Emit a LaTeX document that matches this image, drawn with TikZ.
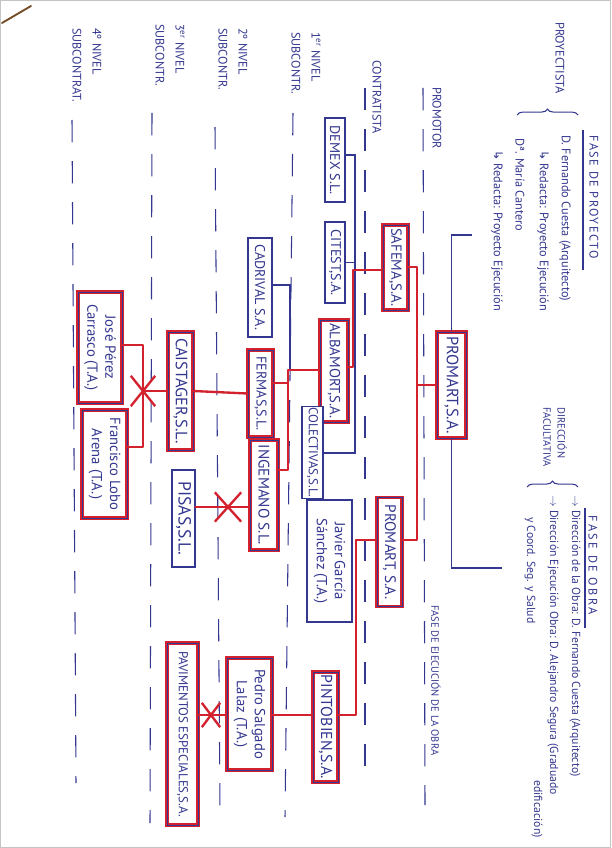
\documentclass[tikz,border=0pt]{standalone}
\usepackage{fontspec}
\setmainfont{PT Sans}
\newfontfamily\arrowfont{DejaVu Sans}
\usepackage{tikz}
\definecolor{penblue}{HTML}{34378F}
\definecolor{penred}{HTML}{D3222E}
\definecolor{pengray}{HTML}{C4C4C4}
\usetikzlibrary{shapes.misc}
\usetikzlibrary{decorations.pathreplacing}
\newcommand{\hookarrow}{{\arrowfont\char"21B3}}
\newcommand{\fs}[1]{\fontsize{#1}{#1}\selectfont}

\begin{document}
\begin{tikzpicture}
    [
    x=0.03cm, y=-0.03cm, font=\fontsize{10.5}{13}\selectfont, text=penblue,
    %Voreinstellungen
    cbox/.style={draw=penblue, line width=0.9pt, fill=white, rotate=-90, inner sep=1pt, align=center, font=\fs{12}},
    chainbox/.style={cbox, draw=penred, line width=1.1pt, double=penblue, double distance=0.5pt},
    twolines/.style={font=\fontsize{12.5}{15.5}\selectfont},
    dims/.style 2 args={minimum width=#1*0.8536pt, minimum height=#2*0.8536pt},
    rottext/.style={rotate=-90, inner sep=0pt, anchor=west, align=left, font=\fontsize{10.5}{17}\selectfont},
    blueline/.style={draw=penblue, line width=0.9pt},
    redline/.style={draw=penred, line width=2pt, line cap=round, line join=round},
    levelline/.style={draw=penblue, line width=0.9pt, dash pattern=on 19pt off 16pt},
    crossmark/.style={cross out, draw=penred, line width=2pt, inner sep=0pt}
    ]
    \useasboundingbox (0,0) rectangle (611,848);
    
    %Blatt
    \draw[pengray, line width=0.8pt] (0.5,0.5) rectangle (610.5,847.5);
    \draw[brown!60!black, line width=1.6pt, line cap=round] (2,23) -- (31,6);
    
    %Niveles
    \foreach \xa/\ya/\xb/\yb in {423/88/425/805, 365/88/365/785, 293/113/285/817, 215/127/220/810, 152/113/150/823, 72/120/76/783}
    \draw[levelline] (\xa,\ya) -- (\xb,\yb);
    
    \node[rottext] (proyectista) at (560,22) {PROYECTISTA};
    \node[rottext] (promotor) at (437,87) {PROMOTOR};
    \node[rottext] (contratista) at (377,60) {CONTRATISTA};
    \node[rottext] (nivel1) at (306,32) {1\textsuperscript{er} NIVEL\\SUBCONTR.};
    \node[rottext] (nivel2) at (233,28) {2º NIVEL\\SUBCONTR.};
    \node[rottext] (nivel3) at (170,24) {3\textsuperscript{er} NIVEL\\SUBCONTR.};
    \node[rottext] (nivel4) at (87,28) {4º NIVEL\\SUBCONTRAT.};
    
    %Fase de proyecto
    \node[rottext] (faseproy) at (594,135) {\addfontfeatures{LetterSpace=12}FASE DE PROYECTO};
    \draw[blueline] (583,130) -- (583,270);
    \node[rottext] (fernandoA) at (565,135) {D. Fernando Cuesta (Arquitecto)};
    \node[rottext] (redactaA) at (543,150) {\hookarrow\ Redacta: Proyecto Ejecución};
    \node[rottext] (maria) at (520,138) {Dª. María Cantero};
    \node[rottext] (redactaB) at (497,150) {\hookarrow\ Redacta: Proyecto Ejecución};
    \draw[blueline, decorate, decoration={brace, amplitude=5pt}] (517,115) -- (578,115);
    
    %Fase de obra
    \node[rottext, font=\fontsize{9}{12}\selectfont] (direccion) at (555,407) {DIRECCIÓN\\FACULTATIVA};
    \draw[blueline, decorate, decoration={brace, amplitude=5pt}] (527,487) -- (578,487);
    \node[rottext] (faseobra) at (593,515) {\addfontfeatures{LetterSpace=20}FASE DE OBRA};
    \draw[blueline] (585,508) -- (585,628);
    \node[rottext, font=\fs{10}] (obraA) at (575,495) {$\rightarrow$ Dirección de la Obra: D. Fernando Cuesta (Arquitecto)};
    \node[rottext, font=\fs{10}] (obraB) at (553,495) {$\rightarrow$ Dirección Ejecución Obra: D. Alejandro Segura (Graduado};
    \node[rottext, anchor=east, font=\fs{10}] (obraC) at (537,838) {edificación)};
    \node[rottext, font=\fs{10}] (obraD) at (530,517) {y Coord. Seg. y Salud};
    \node[rottext, font=\fs{9}] (ejecucion) at (436,605) {FASE DE EJECUCIÓN DE LA OBRA};
    
    %Promotor
    \node[chainbox, dims={106}{29}, font=\fs{14}] (promA) at (451.5,385) {PROMART,S.A.};
    
    %Contratistas
    \node[chainbox, dims={85}{25}, font=\fs{12.5}] (safema) at (395.5,267.5) {SAFEMA,S.A.};
    \node[chainbox, dims={109}{25}, font=\fs{13}] (promB) at (389.5,552) {PROMART, S.A.};
    
    %1er nivel
    \node[cbox, dims={84}{20}] (demex) at (335,160) {DEMEX S.L.};
    \node[cbox, dims={81}{20}] (citest) at (335,262.5) {CITEST,S.A.};
    \node[chainbox, dims={102}{28}, font=\fs{12.5}] (albamort) at (334,371) {ALBAMORT,S.A.};
    \node[cbox, dims={91}{21}, font=\fs{11}] (colectivas) at (312.5,452.5) {COLECTIVAS,S.L.};
    \node[cbox, dims={122}{45}, twolines] (javier) at (329.5,561) {Javier García\\Sánchez (T.A.)};
    \node[chainbox, dims={110}{25}, font=\fs{13.5}] (pintobien) at (325.5,727) {PINTOBIEN,S.A.};
    
    %2º nivel
    \node[cbox, dims={99}{24}] (cadrival) at (260,287.5) {CADRIVAL S.A.};
    \node[chainbox, dims={87}{25}] (fermas) at (260.5,393.5) {FERMAS,S.L.};
    \node[chainbox, dims={110}{28}, font=\fs{13}] (ingemano) at (264,495) {INGEMANO S.L.};
    \node[chainbox, dims={112}{45}, twolines] (pedro) at (249.5,714) {Pedro Salgado\\Lalaz (T.A.)};
    
    %3er nivel
    \node[chainbox, dims={118}{25}, font=\fs{14}] (caistager) at (180.5,391) {CAISTAGER,S.L.};
    \node[cbox, dims={97}{23}, font=\fs{15}] (pisas) at (183.5,518.5) {PISAS,S.L.};
    \node[chainbox, dims={182}{31}, font=\fs{11}] (pavimentos) at (182.5,734) {PAVIMENTOS ESPECIALES,S.A.};
    
    %4º nivel
    \node[chainbox, dims={111}{44}, twolines] (jose) at (100,347.5) {José Pérez\\Carrasco (T.A.)};
    \node[chainbox, dims={108}{45}, twolines] (francisco) at (104.5,464) {Francisco Lobo\\Arena (T.A.)};
    
    %Knoten der Linien
    \coordinate (fp) at (472,235);
    \coordinate (fo) at (502,568);
    \coordinate (j1) at (417,267);
    \coordinate (j2) at (417,540);
    \coordinate (j3) at (353,270);
    \coordinate (j4) at (353,367);
    \coordinate (b1) at (355,155);
    \coordinate (b2) at (355,453);
    \coordinate (j5) at (288,370);
    \coordinate (j6) at (288,470);
    \coordinate (j7) at (288,383);
    \coordinate (b3) at (290,285);
    \coordinate (j8) at (143,345);
    \coordinate (j9) at (143,447);
    \coordinate (k1) at (228,507);
    \coordinate (j10) at (356,540);
    \coordinate (j11) at (356,715);
    \coordinate (k2) at (211,715);
    
    %Promart -> fases
    \draw[blueline] (promA.west) |- (fp);
    \draw[blueline] (promA.east) |- (fo);
    
    %Promart -> contratistas
    \draw[redline] (promA.south) -- (promA.south -| j1);
    \draw[redline] (safema.north |- j1) -- (j1) -- (j2) -- (promB.north |- j2);
    
    %Safema -> 1er nivel
    \draw[blueline] (demex.north |- b1) -- (b1) -- (b2) -- (colectivas.north |- b2);
    \draw[blueline] (citest.north) -- (citest.north -| b1);
    \draw[redline] (safema.south |- j3) -- (j3) -- (j4) -- (albamort.north |- j4);
    
    %Albamort -> 2º nivel
    \draw[blueline] (cadrival.north |- b3) -- (b3) -- (b3 |- j5);
    \draw[redline] (albamort.south |- j5) -- (j5) -- (j6) -- (ingemano.north |- j6);
    \draw[redline] (fermas.north |- j7) -- (j7);
    
    %2º -> 3er nivel
    \draw[redline] (fermas.south) -- (caistager.north);
    \draw[redline] (ingemano.south |- k1) -- (pisas.north |- k1);
    
    %Caistager -> 4º nivel
    \draw[redline] (caistager.south) -- (caistager.south -| j8);
    \draw[redline] (jose.north |- j8) -- (j8) -- (j9) -- (francisco.north |- j9);
    
    %Promart -> Pintobien -> Pedro -> Pavimentos
    \draw[redline] (promB.south |- j10) -- (j10) -- (j11) -- (pintobien.north |- j11);
    \draw[redline] (pintobien.south |- j11) -- (pedro.north |- j11);
    \draw[redline] (pedro.south |- k2) -- (pavimentos.north |- k2);
    
    %Subcontratas no permitidas
    \node[crossmark, dims={22}{28}] (cut1) at (caistager.south -| j8) {};
    \node[crossmark, dims={24}{27}] (cut2) at (k1) {};
    \node[crossmark, dims={16}{22}] (cut3) at (k2) {};
\end{tikzpicture}
\end{document}
